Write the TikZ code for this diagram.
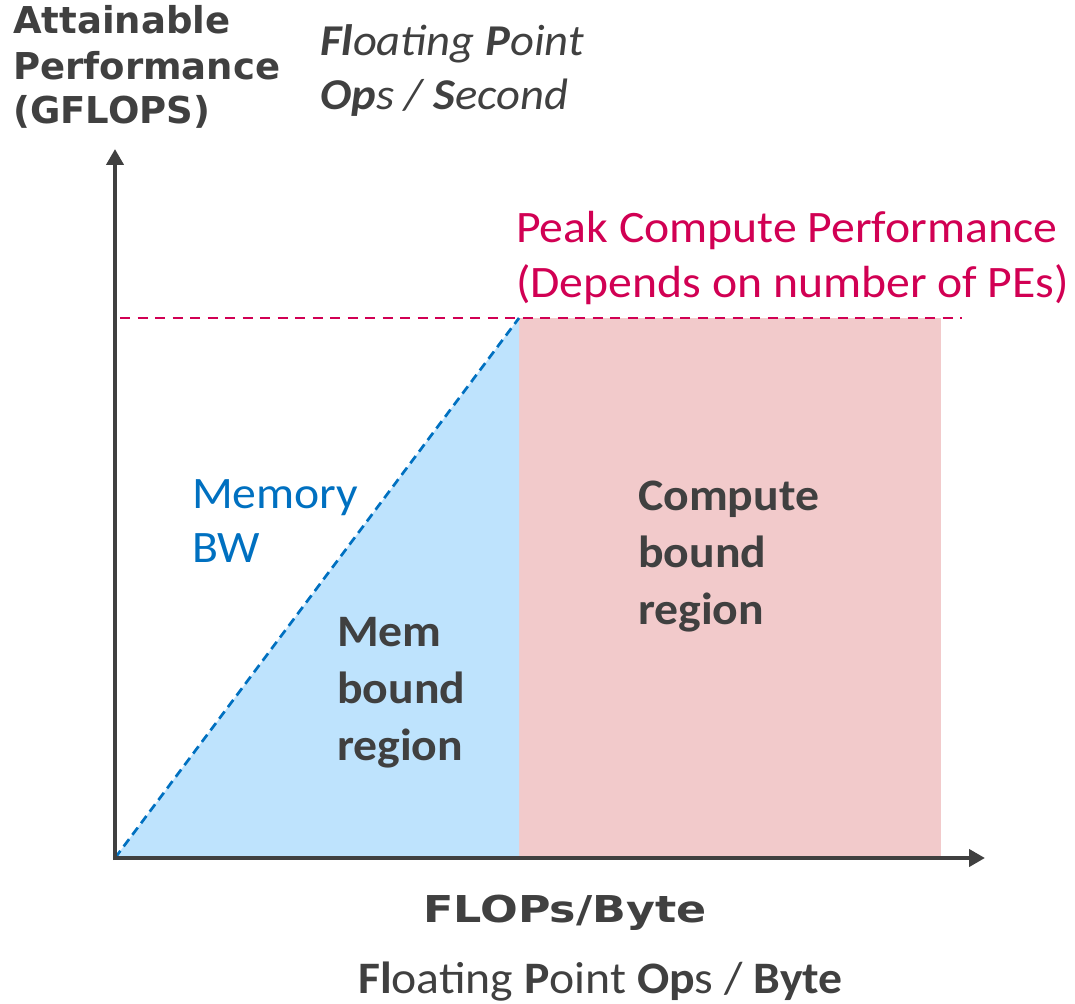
\documentclass[tikz,border=0pt]{standalone}
\usepackage{fontspec}
\setmainfont{Carlito}[FakeStretch=1.06]
\newfontfamily\dejavu{DejaVu Sans}
\newfontfamily\dejavuwide{DejaVu Sans}[FakeStretch=1.2]
\usetikzlibrary{arrows.meta}
\definecolor{axisgray}{HTML}{404040}
\definecolor{bwblue}{HTML}{0070C0}
\definecolor{peakred}{HTML}{D10053}
\definecolor{memfill}{HTML}{BEE3FD}
\definecolor{compfill}{HTML}{F2CACB}
\tikzset{
  lbl/.style={inner sep=0pt, anchor=base west, text=axisgray},
  calfont/.style={font=\fontsize{45}{54}\selectfont},
  boldcal/.style={font=\bfseries\fontsize{45}{54}\selectfont},
  vlbl/.style={font=\dejavu\bfseries\fontsize{37}{44}\selectfont},
  axisline/.style={draw=axisgray, line width=4pt, -{Triangle[length=16pt,width=17pt]}},
  bwline/.style={draw=bwblue, line width=2.7pt, dash pattern=on 9pt off 5.5pt},
  peakline/.style={draw=peakred, line width=2.3pt, dash pattern=on 10pt off 7.5pt}
}
\begin{document}
\begin{tikzpicture}[x=1pt,y=-1pt]
\useasboundingbox (0,0) rectangle (1075,1003);
\coordinate (O) at (115,858);
\coordinate (P) at (519,318);
\coordinate (Pb) at (519,858);
\coordinate (Ytop) at (115,149);
\coordinate (Ystart) at (115,860);
\coordinate (Xstart) at (113,858);
\coordinate (Xend) at (985,858);
\coordinate (Dstart) at (120,318);
\coordinate (Dend) at (962,318);
\coordinate (Cr) at (941,858);
% regions
\fill[compfill] (P) rectangle (Cr);
\fill[memfill] (O) -- (P) -- (Pb) -- cycle;
% dashed lines
\draw[peakline] (Dstart) -- (Dend);
\draw[bwline] (O) -- (P);
% axes
\draw[axisline] (Ystart) -- (Ytop);
\draw[axisline] (Xstart) -- (Xend);
% y axis label
\node[lbl, vlbl] (ya1) at (13,34) {Attainable};
\node[lbl, vlbl] (ya2) at (13,80) {Performance};
\node[lbl, vlbl] (ya3) at (13,124) {(GFLOPS)};
% italic expansion
\node[lbl, font=\itshape\fontsize{44}{53}\selectfont] (fp1) at (320,56) {\textbf{Fl}oating \textbf{P}oint};
\node[lbl, font=\itshape\fontsize{44}{53}\selectfont] (fp2) at (320,110) {\textbf{Op}s / \textbf{S}econd};
% peak
\node[lbl, calfont, text=peakred] (pk1) at (516,242) {Peak Compute Performance};
\node[lbl, calfont, text=peakred] (pk2) at (516,297) {(Depends on number of PEs)};
% memory bw
\node[lbl, calfont, text=bwblue] (mb1) at (192,508) {Memory};
\node[lbl, calfont, text=bwblue] (mb2) at (192,562) {BW};
% compute bound
\node[lbl, boldcal] (cb1) at (638,510) {Compute};
\node[lbl, boldcal] (cb2) at (638,567) {bound};
\node[lbl, boldcal] (cb3) at (638,624) {region};
% mem bound
\node[lbl, boldcal] (mr1) at (337,646) {Mem};
\node[lbl, boldcal] (mr2) at (337,703) {bound};
\node[lbl, boldcal] (mr3) at (337,760) {region};
% x axis label
\node[lbl, font=\dejavuwide\bfseries\fontsize{37}{44}\selectfont] (xl) at (423,922) {FLOPs/Byte};
\node[lbl, calfont] (xl2) at (358,993) {\textbf{Fl}oating \textbf{P}oint \textbf{Op}s / \textbf{Byte}};
\end{tikzpicture}
\end{document}
